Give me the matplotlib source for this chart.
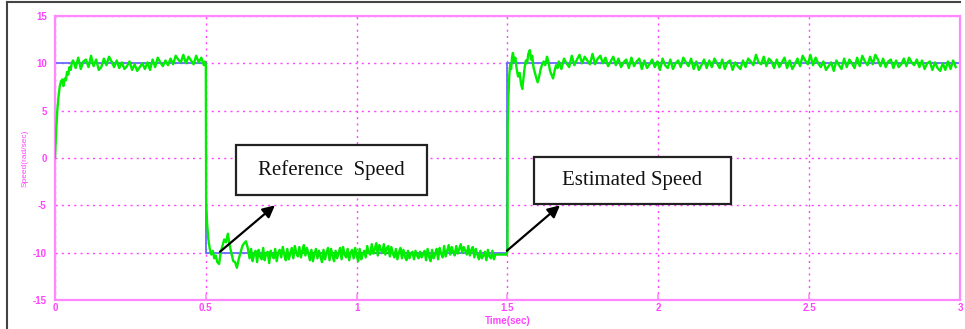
import matplotlib
matplotlib.use("Agg")
import matplotlib.pyplot as plt
from matplotlib.patches import Rectangle
from matplotlib.lines import Line2D
import numpy as np

plt.rcParams['axes.unicode_minus'] = False

# reference speed (step command)
ref_time = [0.0, 0.5, 0.5, 1.5, 1.5, 3.0]
ref_speed = [10, 10, -10, -10, 10, 10]

# estimated speed, start-up transient
rise_time = [0.000, 0.004, 0.008, 0.012, 0.016, 0.020, 0.024, 0.028, 0.032,
             0.036, 0.040, 0.044, 0.048, 0.052, 0.056]
rise_speed = [0.0, 3.0, 5.2, 6.6, 7.6, 8.1, 8.3, 7.6, 8.4, 8.2, 9.1, 8.8,
              9.6, 9.3, 10.1]

# steady part around +10, 0.06 .. 0.49 s every 10 ms
steady1_start = 0.06
steady1_speed = [10.3, 9.5, 10.6, 9.4, 10.2, 10.4, 9.6, 10.8, 9.7, 10.4,
                 9.3, 9.6, 10.5, 9.8, 10.7, 10.2, 9.6, 10.3, 9.5, 10.1,
                 9.4, 9.7, 10.2, 9.3, 9.9, 9.2, 9.6, 10.0, 9.4, 10.1,
                 9.3, 10.4, 9.6, 10.6, 10.1, 9.7, 10.3, 9.8, 10.5, 9.9,
                 10.8, 10.4, 10.1, 10.9, 10.0, 10.7, 10.3, 9.9, 10.8, 10.1,
                 10.6, 9.8]

# reversal at 0.5 s
drop_time = [0.497, 0.500, 0.501, 0.504, 0.508, 0.513, 0.518, 0.523, 0.528,
             0.533, 0.538, 0.544, 0.549, 0.555, 0.561, 0.567, 0.573, 0.579,
             0.585, 0.591, 0.597, 0.603, 0.609, 0.615, 0.621, 0.627, 0.633,
             0.639]
drop_speed = [10.2, 9.8, -4.5, -6.8, -8.5, -9.6, -10.2, -9.8, -10.6, -10.3,
              -11.0, -11.2, -10.0, -9.3, -8.6, -8.9, -8.0, -9.2, -10.1,
              -10.9, -11.0, -11.6, -10.7, -10.0, -9.3, -9.0, -8.8, -9.5]

# steady part around -10, 0.645 .. 1.49 s, every 5 ms
steady2_start = 0.645
steady2_speed = [-10.6, -9.6, -10.9, -10.2, -9.8, -11.0, -9.7, -10.4, -10.7,
                 -9.5, -10.8, -10.1, -9.9, -11.1, -9.8, -10.3, -10.6, -9.6,
                 -10.9, -10.0, -9.7, -10.5, -9.4, -10.2, -10.8, -9.6, -10.7,
                 -10.1, -9.5, -10.6, -9.3, -10.0, -10.4, -9.4, -10.5, -9.8,
                 -9.2, -10.3, -9.5, -10.1, -10.8, -9.7, -10.9, -10.2, -9.6,
                 -10.6, -9.8, -10.4, -11.0, -9.7, -10.7, -10.0, -9.5, -10.8,
                 -9.6, -10.3, -10.9, -9.8, -10.6, -10.1, -9.5, -10.7, -9.4,
                 -10.2, -10.5, -9.6, -10.8, -10.0, -9.7, -10.6, -9.5, -10.3,
                 -10.9, -9.6, -10.7, -10.2, -9.8, -10.5, -9.3, -10.0, -10.2,
                 -9.1, -10.1, -9.6, -9.0, -10.3, -9.2, -9.7, -10.0, -9.1,
                 -10.2, -9.5, -9.3, -10.4, -9.4, -10.1, -10.5, -9.6, -10.7,
                 -10.0, -9.5, -10.6, -9.7, -10.4, -10.8, -9.8, -10.6, -10.1,
                 -9.9, -10.7, -9.8, -10.3, -10.6, -9.9, -10.5, -10.2, -9.8,
                 -10.8, -9.6, -10.4, -10.9, -9.7, -10.6, -10.2, -9.6, -10.7,
                 -9.5, -10.1, -10.5, -9.3, -10.4, -9.8, -9.2, -10.2, -9.4,
                 -9.9, -10.3, -9.3, -10.1, -9.6, -9.1, -10.0, -9.4, -9.8,
                 -10.2, -9.3, -10.3, -9.7, -9.4, -10.5, -9.6, -10.2, -10.7,
                 -9.8, -10.6, -10.3, -9.9, -10.8, -9.7, -10.4, -10.6, -9.8,
                 -10.7, -10.2]

# reversal at 1.5 s
jump_time = [1.497, 1.500, 1.5008, 1.503, 1.506, 1.509, 1.512, 1.515, 1.518,
             1.522, 1.526, 1.530, 1.535, 1.540, 1.545, 1.549, 1.553, 1.557,
             1.561, 1.565, 1.569, 1.574, 1.578, 1.582, 1.586, 1.590, 1.595,
             1.600, 1.605, 1.610, 1.615, 1.620, 1.625, 1.631, 1.636, 1.641,
             1.646, 1.651, 1.656, 1.661, 1.666]
jump_speed = [-10.2, -9.8, 3.5, 6.5, 8.8, 9.9, 9.4, 10.6, 11.1, 10.2, 10.6,
              9.5, 8.6, 9.0, 7.8, 7.3, 8.5, 9.6, 10.3, 10.0, 11.0, 11.4,
              10.4, 10.8, 9.6, 9.1, 8.5, 8.0, 8.6, 9.4, 9.9, 10.2, 9.8,
              10.7, 10.1, 9.2, 8.8, 8.4, 9.2, 9.8, 9.5]

# steady part around +10, 1.67 .. 3.00 s
steady3_start = 1.67
steady3_speed = [10.2, 9.4, 10.5, 10.0, 9.6, 10.8, 9.8, 10.4, 10.9, 10.0,
                 10.7, 10.3, 9.9, 11.0, 9.9, 10.5, 10.8, 10.0, 10.6, 9.7,
                 10.2, 10.7, 9.8, 10.5, 9.6, 10.1, 10.4, 9.5, 10.6, 9.7,
                 10.2, 10.5, 9.4, 10.3, 9.5, 9.9, 10.4, 9.6, 10.2, 9.3,
                 10.5, 9.8, 9.5, 10.4, 9.4, 10.0, 10.3, 9.6, 10.6, 10.1,
                 9.7, 10.5, 9.4, 10.2, 9.3, 9.8, 10.4, 9.5, 10.3, 9.6,
                 10.5, 10.0, 9.5, 10.4, 9.4, 10.1, 10.3, 9.3, 10.1, 9.7,
                 9.4, 10.3, 9.6, 10.5, 10.2, 9.8, 10.9, 10.1, 9.9, 10.7,
                 9.7, 10.5, 10.2, 9.5, 10.4, 9.6, 10.1, 10.6, 9.5, 10.3,
                 9.4, 9.9, 10.5, 9.7, 10.8, 10.3, 9.9, 10.9, 9.8, 10.6,
                 10.0, 9.6, 10.2, 9.3, 9.7, 10.1, 9.2, 10.3, 9.8, 9.4,
                 10.5, 9.6, 10.4, 10.0, 9.5, 10.6, 9.7, 10.8, 10.2, 9.8,
                 10.7, 9.9, 10.9, 10.4, 9.7, 10.5, 9.6, 10.2, 10.4, 9.5,
                 10.3, 9.6, 9.9, 10.5, 9.7, 10.6, 10.1, 9.8, 10.4, 9.6,
                 10.3, 9.4, 10.0, 10.2, 9.3, 10.1, 9.5, 9.2, 10.0, 9.3,
                 10.2, 9.4, 10.3, 9.6]

x_ticks = [0, 0.5, 1, 1.5, 2, 2.5, 3]
x_tick_labels = ['0', '0.5', '1', '1.5', '2', '2.5', '3']
y_ticks = [-15, -10, -5, 0, 5, 10, 15]


def steady_times(start, values, step):
    return list(start + step * np.arange(len(values)))


est_time = (rise_time + steady_times(steady1_start, steady1_speed, 0.0085)
            + drop_time
            + steady_times(steady2_start, steady2_speed, 0.005) + jump_time
            + steady_times(steady3_start, steady3_speed, 0.0086))
est_speed = (rise_speed + steady1_speed + drop_speed + steady2_speed
             + jump_speed + steady3_speed)

pink = '#ff44ff'
spine_pink = '#ff88ff'

fig = plt.figure(figsize=(9.65, 3.29), dpi=100)
ax = fig.add_axes([55 / 965, 1 - 300 / 329, 905 / 965, 284 / 329])

ax.plot(ref_time, ref_speed, color='#6a6aff', lw=1.3, zorder=2)
ax.plot(est_time, est_speed, color='#00ee00', lw=1.7, zorder=3)

ax.set_xlim(0, 3)
ax.set_ylim(-15, 15)
ax.set_xticks(x_ticks)
ax.set_xticklabels(x_tick_labels)
ax.set_yticks(y_ticks)

for s in ax.spines.values():
    s.set_color(spine_pink)
    s.set_linewidth(1.6)

ax.tick_params(axis='x', direction='in', length=4, width=1.2, color=spine_pink,
               labelcolor=pink, labelsize=7, pad=2)
ax.tick_params(axis='y', length=0, labelcolor=pink, labelsize=7, pad=6)
for lab in ax.get_xticklabels() + ax.get_yticklabels():
    lab.set_fontweight('bold')
    lab.set_family('Liberation Sans')

ax.grid(True, color=pink, linestyle=(0, (1.5, 3)), linewidth=1)

ax.set_xlabel('Time(sec)', color=pink, fontsize=7, fontweight='bold',
              family='Liberation Sans', labelpad=2)
ax.set_ylabel('Speed(rad/sec)', color=pink, fontsize=6,
              family='Liberation Sans', labelpad=3)


def label_box(x0, x1, y0, y1, text):
    shadow = Rectangle((x0 + 0.004, y0 - 0.12), x1 - x0, y1 - y0,
                       facecolor='#888888', edgecolor='none', zorder=5)
    ax.add_patch(shadow)
    box = Rectangle((x0, y0), x1 - x0, y1 - y0, facecolor='white',
                    edgecolor='#222222', linewidth=1.6, zorder=6)
    ax.add_patch(box)
    ax.text((x0 + x1) / 2, (y0 + y1) / 2, text, ha='center', va='center',
            fontsize=15, family='Liberation Serif', color='#111111', zorder=7)


label_box(0.600, 1.233, -3.9, 1.37, 'Reference  Speed')
label_box(1.588, 2.241, -4.86, 0.1, 'Estimated Speed')

arrow = dict(arrowstyle='-|>', color='black', lw=1.6, mutation_scale=18,
             shrinkA=0, shrinkB=0)
ax.annotate('', xy=(0.729, -5.0), xytext=(0.547, -9.9), arrowprops=arrow,
            zorder=8)
ax.annotate('', xy=(1.674, -5.0), xytext=(1.498, -9.8), arrowprops=arrow,
            zorder=8)

# outer frame of the screenshot (left and top edges)
fig.add_artist(Line2D([7 / 965, 7 / 965], [0, 1 - 2 / 329], color='#444444',
                      lw=1.5))
fig.add_artist(Line2D([7 / 965, 960 / 965], [1 - 2 / 329, 1 - 2 / 329],
                      color='#444444', lw=1.5))

fig.savefig('out.png', dpi=100, facecolor='white')
